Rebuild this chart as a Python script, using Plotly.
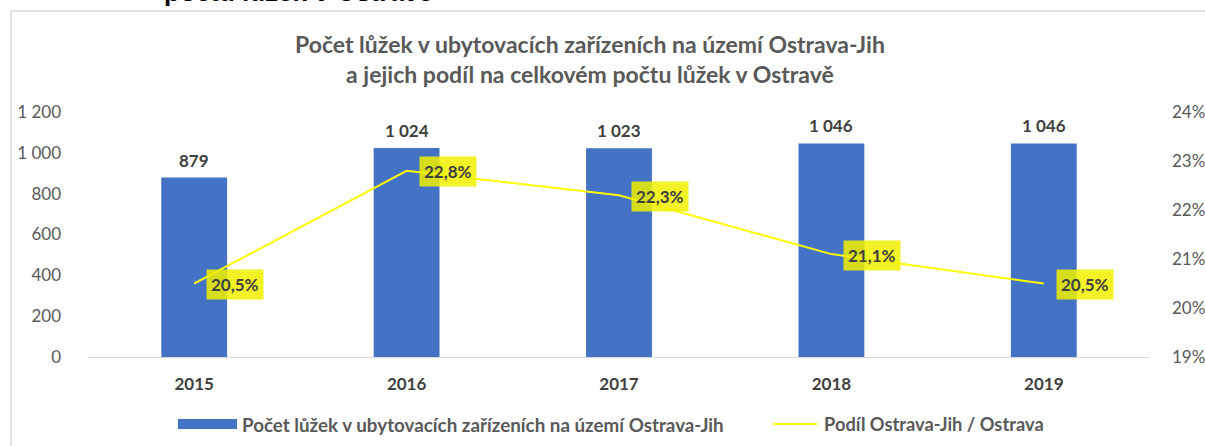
import plotly.graph_objects as go

years = ["2015", "2016", "2017", "2018", "2019"]
beds = [879, 1024, 1023, 1046, 1046]
share = [0.205, 0.228, 0.223, 0.211, 0.205]

bar_name = "Počet lůžek v ubytovacích zařízeních na území Ostrava-Jih"
line_name = "Podíl Ostrava-Jih / Ostrava"
title_text = ("Počet lůžek v ubytovacích zařízeních na území Ostrava-Jih<br>"
              "a jejich podíl na celkovém počtu lůžek v Ostravě")
top_text = "počtu lůžek v Ostravě"

FONT = "Lato"
GRAY = "#595959"
DARK = "#404040"
BLUE = "#4472C4"
YELLOW = "#FFFF00"


def px(x):
    return (x - 88) / 1062


def py(y):
    return (357 - y) / 245


fig = go.Figure()
fig.add_trace(go.Bar(x=years, y=beds, name=bar_name, marker_color=BLUE,
                     marker_line_width=0, yaxis="y"))
fig.add_trace(go.Scatter(x=years, y=share, name=line_name, mode="lines",
                         line=dict(color=YELLOW, width=2), yaxis="y2"))

ann = []
for i, v in enumerate(beds):
    ann.append(dict(x=i, y=v, xref="x", yref="y", text=f"<b>{v:,}</b>".replace(",", " "),
                    showarrow=False, yanchor="bottom", yshift=5,
                    font=dict(family=FONT, size=17, color=DARK)))
for i, v in enumerate(share):
    ann.append(dict(x=i, y=v, xref="x", yref="y2",
                    text=f"<b>{v*100:.1f}%</b>".replace(".", ","),
                    showarrow=False, xanchor="left", xshift=12, yshift=-1,
                    bgcolor="rgba(240,240,0,0.85)", borderpad=4,
                    font=dict(family=FONT, size=17, color=DARK)))
ann.append(dict(x=px(590), y=py(58.5), xref="paper", yref="paper",
                text=f"<b>{title_text}</b>",
                showarrow=False, xanchor="center", yanchor="middle",
                font=dict(family=FONT, size=23, color=GRAY)))
ann.append(dict(x=px(298), y=py(9), xref="paper", yref="paper",
                text=f"<b>{top_text}</b>", showarrow=False, xanchor="center",
                yanchor="bottom", font=dict(family="Liberation Sans", size=26, color="black")))
# legend texts
ann.append(dict(x=px(240), y=py(424), xref="paper", yref="paper", text=f"<b>{bar_name}</b>",
                showarrow=False, xanchor="left", yanchor="middle",
                font=dict(family=FONT, size=18.8, color=GRAY)))
ann.append(dict(x=px(822), y=py(424), xref="paper", yref="paper", text=f"<b>{line_name}</b>",
                showarrow=False, xanchor="left", yanchor="middle",
                font=dict(family=FONT, size=18.3, color=GRAY)))

xl = px(11)
yt = py(11)
shapes = [
    dict(type="line", xref="paper", yref="paper", x0=xl, x1=1.3, y0=yt, y1=yt,
         line=dict(color="#D9D9D9", width=1.5)),
    dict(type="line", xref="paper", yref="paper", x0=xl, x1=xl, y0=yt, y1=-0.5,
         line=dict(color="#D9D9D9", width=1.5)),
    dict(type="rect", xref="paper", yref="paper", x0=px(178), x1=px(237),
         y0=py(429), y1=py(419), fillcolor=BLUE, line_width=0),
    dict(type="line", xref="paper", yref="paper", x0=px(773), x1=px(817),
         y0=py(424), y1=py(424), line=dict(color=YELLOW, width=2)),
]

fig.update_layout(
    width=1205, height=446,
    margin=dict(l=88, r=55, t=112, b=89, autoexpand=False),
    paper_bgcolor="white", plot_bgcolor="white",
    separators=", ",
    bargap=0.69,
    showlegend=False,
    xaxis=dict(type="category", showline=True, linecolor="#D9D9D9", linewidth=1,
               ticks="", ticklabelstandoff=12,
               tickfont=dict(family=FONT, size=17, color=DARK, weight="bold")),
    yaxis=dict(range=[0, 1200], dtick=200, tickformat=",d", showgrid=False,
               zeroline=False, ticks="", ticklabelstandoff=26,
               tickfont=dict(family=FONT, size=17, color=GRAY)),
    yaxis2=dict(range=[0.19, 0.24], dtick=0.01, tickformat=".0%", overlaying="y",
                side="right", showgrid=False, zeroline=False, ticks="",
                ticklabelstandoff=21,
                tickfont=dict(family=FONT, size=17, color=GRAY)),
    annotations=ann,
    shapes=shapes,
)

fig.write_html("out.html", config={"displayModeBar": False},
               post_script="document.body.style.margin='0';")
